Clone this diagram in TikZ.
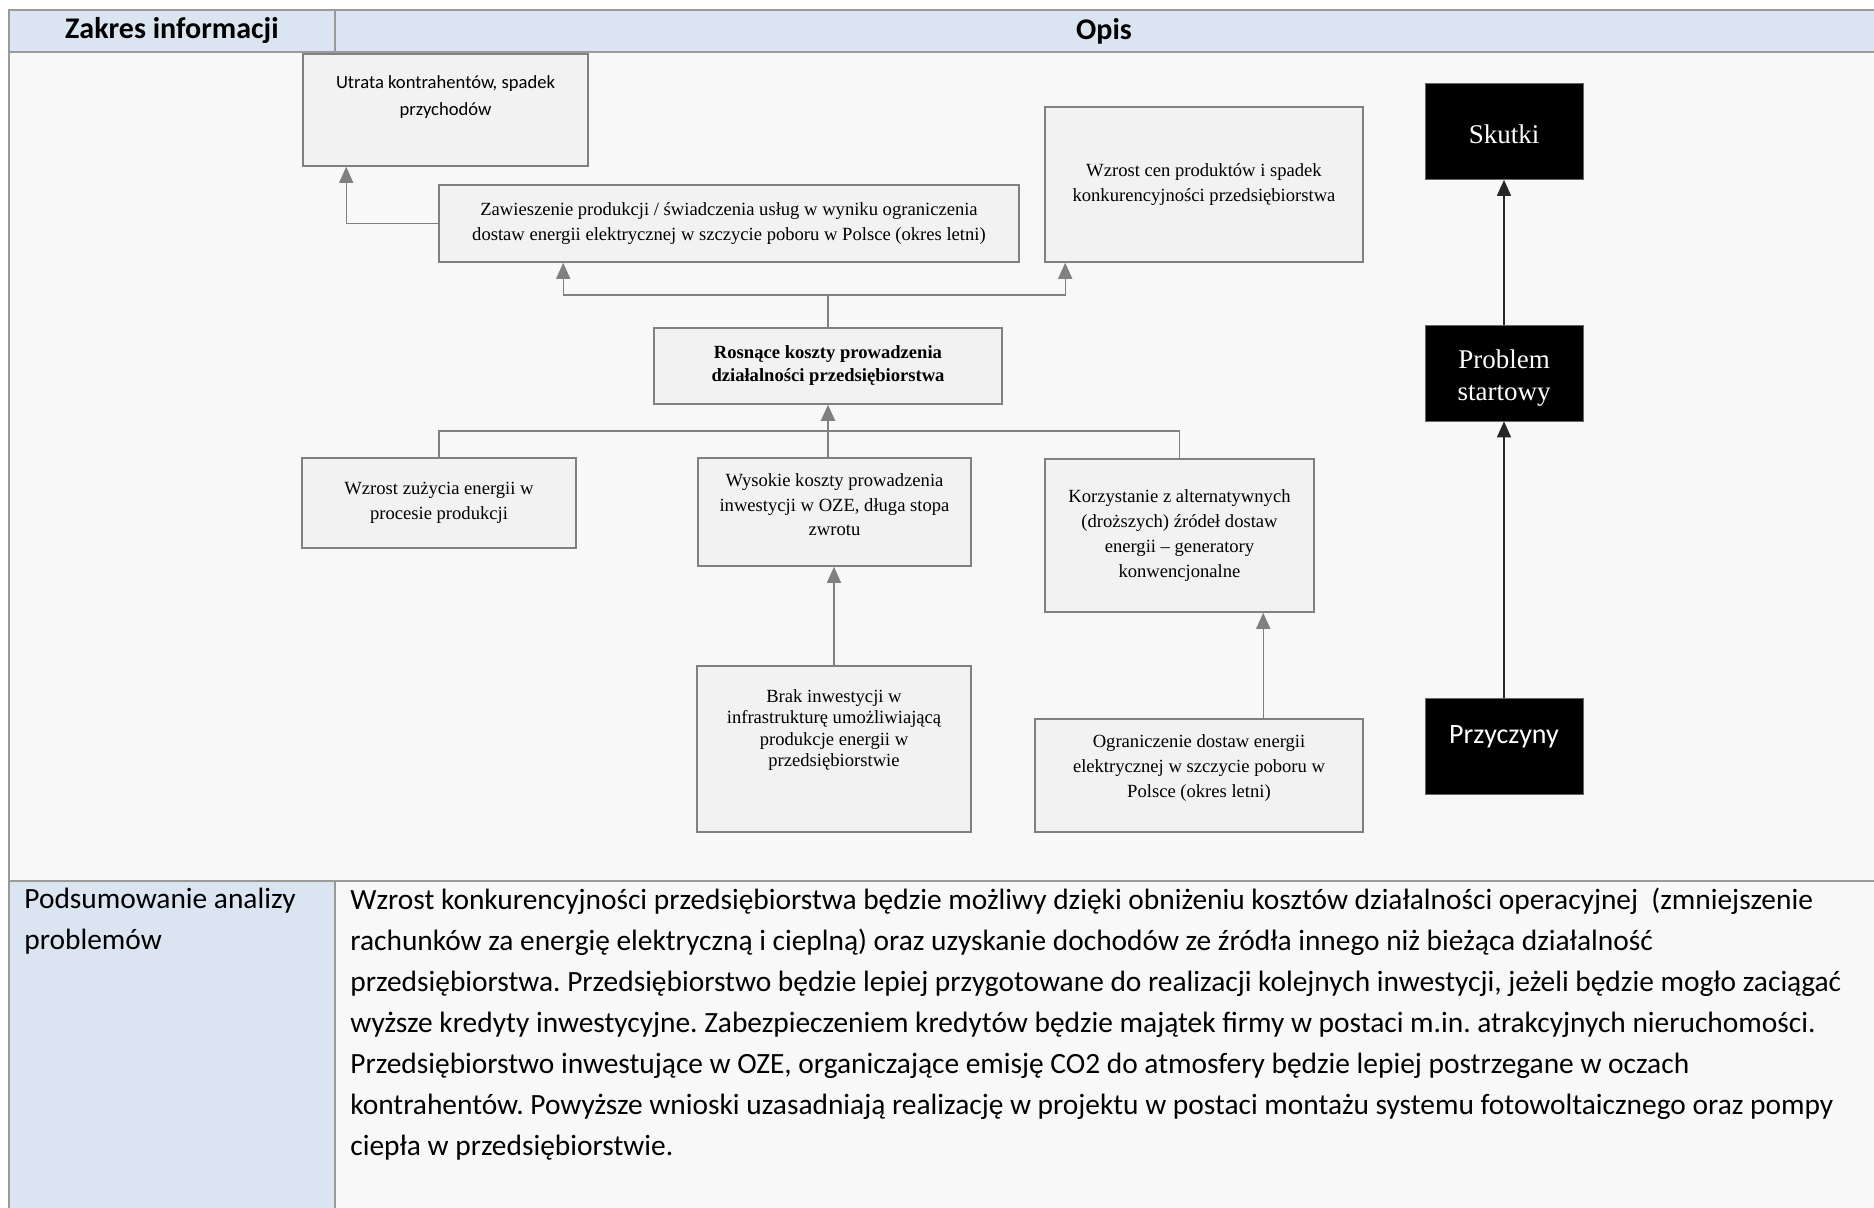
\documentclass[tikz,border=0pt]{standalone}
\usepackage{fontspec}
\setmainfont{Liberation Serif}
\newfontfamily\calibri{Carlito}
\usetikzlibrary{arrows.meta,positioning}
\definecolor{hdr}{HTML}{DBE5F1}
\definecolor{pane}{HTML}{F8F8F8}
\definecolor{rule}{HTML}{9A9A9A}
\definecolor{boxfill}{HTML}{F2F2F2}
\definecolor{boxline}{HTML}{808080}
\tikzset{blk/.style={draw=boxline, line width=0.8pt, fill=boxfill, align=center, inner sep=2pt,
    font=\fontsize{9.3}{12.3}\selectfont},
  txt/.style={align=center, inner sep=0pt, font=\fontsize{9.3}{12.3}\selectfont},
  dark/.style={draw=black!60, fill=black, text=white, align=center, minimum width=79pt,
    minimum height=48pt, font=\fontsize{13.5}{16}\selectfont},
  lnk/.style={draw=boxline, line width=0.7pt},
  pin/.style={lnk, -{Triangle[length=8pt,width=7pt]}},
  bpin/.style={draw=black!85, line width=0.8pt, -{Triangle[length=8pt,width=7pt]}},
  rulel/.style={draw=rule, line width=1.2pt},
  para/.style={anchor=north west, align=left, inner sep=0pt, font=\calibri\fontsize{14.7}{20.5}\selectfont}}
\frenchspacing

\begin{document}
\begin{tikzpicture}[x=0.5pt, y=-0.5pt]
  \useasboundingbox (0,0) rectangle (1874,1208);
  % table cells and rules
  \fill[pane] (9,10) rectangle (1874,1208);
  \fill[hdr] (9,10) rectangle (1874,52);
  \fill[hdr] (9,881) rectangle (335,1208);
  \draw[rulel] (1874,10) -- (9,10) -- (9,1208);
  \draw[rulel] (9,52) -- (1874,52);
  \draw[rulel] (9,881) -- (1874,881);
  \draw[rulel] (335,10) -- (335,52);
  \draw[rulel] (335,881) -- (335,1208);
  \node[font=\calibri\bfseries\fontsize{15}{18}\selectfont] (zakres) at (172,31) {Zakres informacji};
  \node[font=\calibri\bfseries\fontsize{15}{18}\selectfont] (opis) at (1104,31) {Opis};

  % effects
  \node[blk, minimum width=142.5pt, minimum height=56pt] (utrata) at (445.5,110) {};
  \node[txt, font=\calibri\fontsize{9.3}{13.5}\selectfont] (utratatxt) at (445.5,97) {Utrata kontrahentów, spadek\\przychodów};
  \node[blk, minimum width=290pt, minimum height=38.5pt] (zawieszenie) at (729,223.5) {Zawieszenie produkcji / świadczenia usług w wyniku ograniczenia\\dostaw energii elektrycznej w szczycie poboru w Polsce (okres letni)};
  \node[blk, minimum width=159pt, minimum height=77.5pt] (wzrostcen) at (1204,184.5) {Wzrost cen produktów i spadek\\konkurencyjności przedsiębiorstwa};
  % starting problem
  \node[blk, minimum width=174pt, minimum height=38pt, font=\bfseries\fontsize{9.3}{11.5}\selectfont] (rosnace) at (828,366) {Rosnące koszty prowadzenia\\działalności przedsiębiorstwa};
  % causes
  \node[blk, minimum width=137pt, minimum height=45pt] (wzrostzuz) at (439,503) {Wzrost zużycia energii w\\procesie produkcji};
  \node[blk, minimum width=136.5pt, minimum height=54pt] (wysokie) at (834.5,512) {};
  \node[txt] (wysokietxt) at (834.5,505) {Wysokie koszty prowadzenia\\inwestycji w OZE, długa stopa\\zwrotu};
  \node[blk, minimum width=134.5pt, minimum height=76.5pt, font=\fontsize{9.3}{12.5}\selectfont] (korzyst) at (1179.5,535.5) {Korzystanie z alternatywnych\\(droższych) źródeł dostaw\\energii -- generatory\\konwencjonalne};
  \node[blk, minimum width=137pt, minimum height=83pt] (brak) at (834,749) {};
  \node[txt, font=\fontsize{9.3}{10.7}\selectfont] (braktxt) at (834,730) {Brak inwestycji w\\infrastrukturę umożliwiającą\\produkcje energii w\\przedsiębiorstwie};
  \node[blk, minimum width=164pt, minimum height=56.5pt] (ogranicz) at (1199,775.5) {};
  \node[txt, font=\fontsize{9.3}{12.5}\selectfont] (ogranicztxt) at (1199,768) {Ograniczenie dostaw energii\\elektrycznej w szczycie poboru w\\Polsce (okres letni)};

  % legend column
  \node[dark, text height=12.5pt] (skutki) at (1504,131.5) {Skutki};
  \node[dark] (problem) at (1504,373) {};
  \node[txt, text=white, font=\fontsize{13.5}{16}\selectfont] (problemtxt) at (1504,378) {Problem\\startowy};
  \node[dark] (przyczyny) at (1504,746.5) {};
  \node[text=white, font=\calibri\fontsize{14}{17}\selectfont] (przyczynytxt) at (1504,737) {Przyczyny};
  \draw[bpin] (przyczyny.north) -- (problem.south);
  \draw[bpin] (problem.north) -- (skutki.south);

  % connectors
  \draw[pin] (zawieszenie.west) -| ([xshift=22pt]utrata.south west);
  \coordinate (jtop) at (rosnace.north |- 0,295);
  \draw[lnk] (rosnace.north) -- (jtop);
  \draw[pin] (jtop) -| ([xshift=62.5pt]zawieszenie.south west);
  \draw[pin] (jtop) -| ([xshift=10.5pt]wzrostcen.south west);
  \coordinate (jbot) at (rosnace.south |- 0,431);
  \draw[lnk] (wzrostzuz.north) |- (jbot) -| (korzyst.north);
  \draw[pin, line width=1.2pt] (rosnace.south |- wysokie.north) -- (rosnace.south);
  \draw[pin] (brak.north) -- (brak.north |- wysokie.south);
  \coordinate (ogrtop) at ([xshift=114.5pt]ogranicz.north west);
  \draw[pin] (ogrtop) -- (ogrtop |- korzyst.south);

  % summary row
  \node[para] (podsum) at (24,888) {Podsumowanie analizy\\problemów};
  \node[para] (wnioski) at (350,888) {Wzrost konkurencyjności przedsiębiorstwa będzie możliwy dzięki obniżeniu kosztów działalności operacyjnej\ \ (zmniejszenie\\
    rachunków za energię elektryczną i cieplną) oraz uzyskanie dochodów ze źródła innego niż bieżąca działalność\\
    przedsiębiorstwa. Przedsiębiorstwo będzie lepiej przygotowane do realizacji kolejnych inwestycji, jeżeli będzie mogło zaciągać\\
    wyższe kredyty inwestycyjne. Zabezpieczeniem kredytów będzie majątek firmy w postaci m.in. atrakcyjnych nieruchomości.\\
    Przedsiębiorstwo inwestujące w OZE, organiczające emisję CO2 do atmosfery będzie lepiej postrzegane w oczach\\
    kontrahentów. Powyższe wnioski uzasadniają realizację w projektu w postaci montażu systemu fotowoltaicznego oraz pompy\\
    ciepła w przedsiębiorstwie.};
\end{tikzpicture}
\end{document}
